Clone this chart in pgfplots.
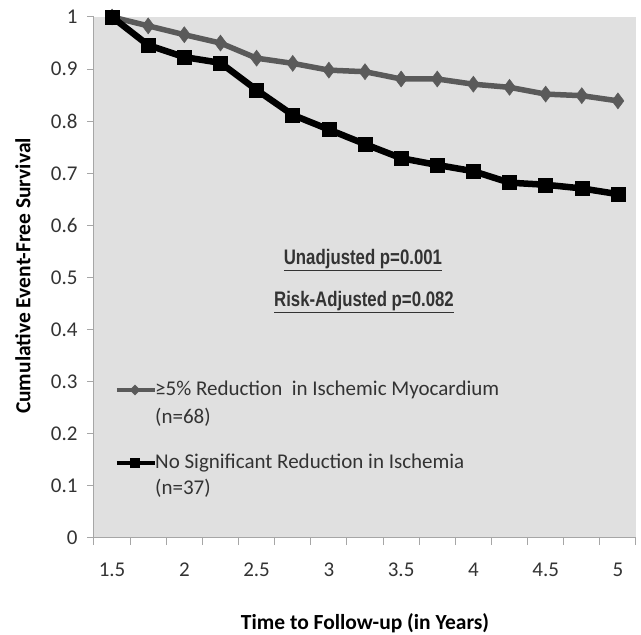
\documentclass[border=0pt]{standalone}
\usepackage{pgfplots}
\pgfplotsset{compat=1.18}
\usetikzlibrary{shapes.geometric}
\usepackage{fontspec}
\setmainfont{Carlito}
\newfontfamily\narrowfont[FakeStretch=0.8]{Liberation Sans}
\definecolor{bggray}{HTML}{E0E0E0}
\definecolor{sergray}{HTML}{5A5A5A}
\definecolor{txt}{HTML}{333333}
\begin{document}
\begin{tikzpicture}
\path[use as bounding box] (-94pt,-97pt) rectangle (547pt,538pt);
\begin{axis}[
  scale only axis, width=542pt, height=521pt,
  xmin=1.375, xmax=5.125, ymin=0, ymax=1,
  axis lines*=left,
  axis line style={draw=gray!70, line width=1pt},
  axis background/.style={fill=bggray},
  xtick={1.5,2,2.5,3,3.5,4,4.5,5},
  xticklabels={1.5,2,2.5,3,3.5,4,4.5,5},
  minor xtick={1.375,1.625,1.875,2.125,2.375,2.625,2.875,3.125,3.375,3.625,3.875,4.125,4.375,4.625,4.875,5.125},
  ytick={0,0.1,0.2,0.3,0.4,0.5,0.6,0.7,0.8,0.9,1},
  yticklabels={0,0.1,0.2,0.3,0.4,0.5,0.6,0.7,0.8,0.9,1},
  tick align=outside,
  major tick length=7pt, minor tick length=7pt,
  major x tick style={draw=none},
  every tick/.style={draw=gray!70, line width=1pt},
  minor tick style={draw=gray!70, line width=1pt},
  /pgf/number format/assume math mode=true,
  tick label style={font=\fontsize{21}{25}\selectfont, text=txt},
  x tick label style={yshift=-14pt},
  y tick label style={xshift=-6pt},
  xlabel={Time to Follow-up (in Years)},
  ylabel={Cumulative Event-Free Survival},
  label style={font=\fontsize{21.5}{25}\selectfont\bfseries, text=black},
  xlabel style={at={([yshift=-85pt]rel axis cs:0.5,0)}, anchor=center},
  ylabel style={at={([xshift=-71pt]rel axis cs:0,0.503)}, anchor=center},
  clip=false,
]
\addplot[color=sergray, line width=5.5pt, mark=diamond*, mark size=8pt,
  mark options={fill=sergray, line width=0.5pt}] coordinates {
(1.5,1.0) (1.75,0.983) (2.0,0.966) (2.25,0.950) (2.5,0.921) (2.75,0.911)
(3.0,0.898) (3.25,0.895) (3.5,0.881) (3.75,0.881) (4.0,0.871) (4.25,0.865)
(4.5,0.852) (4.75,0.849) (5.0,0.839)};
\addplot[color=black, line width=6.5pt, mark=square*, mark size=7pt,
  mark options={fill=black, line width=0.5pt}] coordinates {
(1.5,1.0) (1.75,0.946) (2.0,0.923) (2.25,0.912) (2.5,0.860) (2.75,0.812)
(3.0,0.784) (3.25,0.756) (3.5,0.729) (3.75,0.716) (4.0,0.704) (4.25,0.682)
(4.5,0.678) (4.75,0.671) (5.0,0.660)};
% legend
\draw[color=sergray, line width=3.5pt] (axis cs:1.534,0.284) -- (axis cs:1.797,0.284);
\node[fill=sergray, diamond, inner sep=0pt, minimum size=11pt] at (axis cs:1.659,0.284) {};
\node[anchor=west, inner sep=0pt, font=\fontsize{21}{25}\selectfont, text=txt] at (axis cs:1.797,0.284) {≥5\% Reduction\ \ in Ischemic Myocardium};
\node[anchor=west, inner sep=0pt, font=\fontsize{21}{25}\selectfont, text=txt] at (axis cs:1.797,0.232) {(n=68)};
\draw[color=black, line width=4pt] (axis cs:1.534,0.144) -- (axis cs:1.797,0.144);
\node[fill=black, inner sep=0pt, minimum size=10pt] at (axis cs:1.659,0.144) {};
\node[anchor=west, inner sep=0pt, font=\fontsize{21}{25}\selectfont, text=txt] at (axis cs:1.797,0.144) {No Significant Reduction in Ischemia};
\node[anchor=west, inner sep=0pt, font=\fontsize{21}{25}\selectfont, text=txt] at (axis cs:1.797,0.096) {(n=37)};
% p-values
\node[font=\narrowfont\bfseries\fontsize{21}{25}\selectfont, text=txt] at (axis cs:3.236,0.534) {\underline{Unadjusted p=0.001}};
\node[font=\narrowfont\bfseries\fontsize{21}{25}\selectfont, text=txt] at (axis cs:3.243,0.453) {\underline{Risk-Adjusted p=0.082}};
\end{axis}
\end{tikzpicture}
\end{document}
